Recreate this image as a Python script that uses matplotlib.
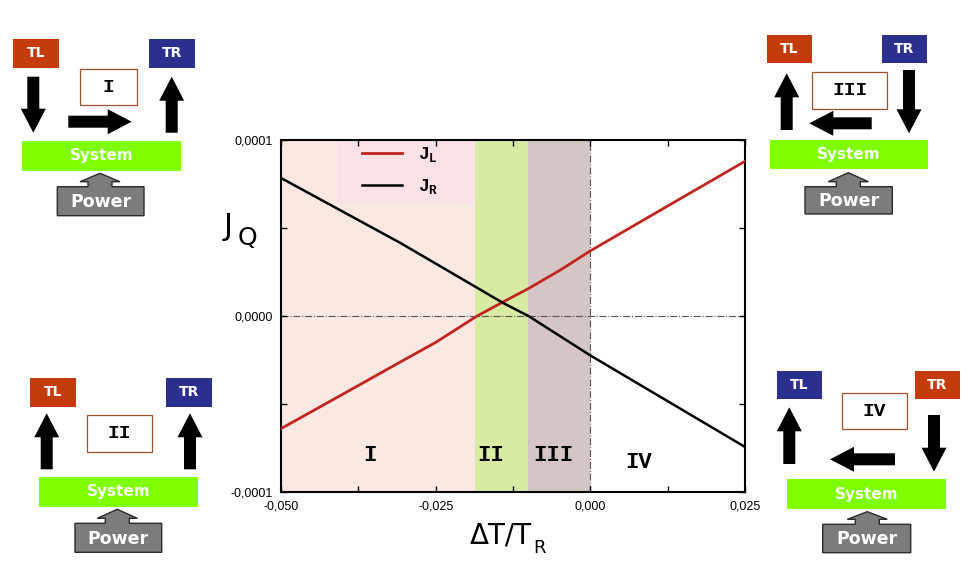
import matplotlib
matplotlib.use('Agg')
import matplotlib.pyplot as plt
import matplotlib.patches as mpatches

matplotlib.rcParams.update({
    'font.family': 'DejaVu Sans',
    'mathtext.fontset': 'custom',
    'mathtext.rm': 'Liberation Mono:bold',
    'mathtext.it': 'Liberation Mono:bold',
})

# heat currents
dT_L = [-0.050, -0.0375, -0.0307, -0.025, -0.0183, -0.0141, -0.0100, -0.0049, 0.000, 0.0125, 0.025]
J_L = [-6.40e-5, -3.95e-5, -2.61e-5, -1.50e-5, 0.0, 0.80e-5, 1.56e-5, 2.60e-5, 3.70e-5, 6.25e-5, 8.79e-5]
dT_R = [-0.050, -0.0375, -0.0307, -0.025, -0.0141, -0.0100, 0.000, 0.0125, 0.025]
J_R = [7.84e-5, 5.45e-5, 4.15e-5, 2.98e-5, 0.74e-5, 0.0, -2.24e-5, -4.84e-5, -7.44e-5]

# shaded regimes
region_edges = [-0.050, -0.0187, -0.0101, 0.000]
region_colors = ['#fae9e2', '#d8eba2', '#d5c6c5']
region_names = ['I', 'II', 'III', 'IV']
region_label_x = [-0.0356, -0.0161, -0.0060, 0.0078]
region_label_y = [-7.9e-5, -7.9e-5, -7.9e-5, -8.3e-5]

xticks = [-0.050, -0.025, 0.000, 0.025]
xtick_labels = ['-0,050', '-0,025', '0,000', '0,025']
xminor = [-0.0375, -0.0125, 0.0125]
yticks = [-0.0001, 0.0, 0.0001]
ytick_labels = ['-0,0001', '0,0000', '0,0001']
yminor = [-0.00005, 0.00005]

RED = '#c43b0c'
BLUE = '#2b2f8e'
LIME = '#80ff00'

fig = plt.figure(figsize=(9.75, 5.74), dpi=100)

# overlay in pixel coordinates for the little schematics
ov = fig.add_axes([0, 0, 1, 1], zorder=-1)
ov.set_xlim(0, 975)
ov.set_ylim(574, 0)
ov.axis('off')


def box(x0, y0, x1, y1, color, text, size=10, tcolor='white', edge='none', family='DejaVu Sans'):
    ov.add_patch(mpatches.Rectangle((x0, y0), x1 - x0, y1 - y0, facecolor=color,
                                    edgecolor=edge, lw=0.9))
    ov.text((x0 + x1) / 2, (y0 + y1) / 2, text, color=tcolor, fontsize=size,
            fontweight='bold', family=family, ha='center', va='center')


def arrow(x0, y0, x1, y1):
    ov.add_patch(mpatches.FancyArrow(x0, y0, x1 - x0, y1 - y0, width=12, head_width=25,
                                     head_length=24, length_includes_head=True,
                                     color='black', lw=0))


def power(x0, x1, y0, y1, cx, apex):
    pts = [(x0, y1), (x0, y0), (cx - 12, y0), (cx - 12, y0 - 5), (cx - 20, y0 - 5),
           (cx, apex), (cx + 20, y0 - 5), (cx + 12, y0 - 5), (cx + 12, y0), (x1, y0), (x1, y1)]
    ov.add_patch(mpatches.Polygon(pts, closed=True, facecolor='#7c7c7c', edgecolor='#2b2b2b', lw=1))
    ov.text((x0 + x1) / 2, (y0 + y1) / 2 + 1, 'Power', color='white', fontsize=12.5,
            fontweight='bold', ha='center', va='center')


def label(x0, y0, x1, y1, text):
    box(x0, y0, x1, y1, 'white', text, size=14, tcolor='black', edge='#a0522d',
        family='Liberation Mono')


# panel I
box(12.7, 39, 59.3, 67.7, RED, 'TL')
box(149, 39, 195, 67.7, BLUE, 'TR')
label(80, 69.3, 136.7, 105, 'I')
arrow(33.3, 76.7, 33.3, 132.7)
arrow(68.3, 121.7, 131.7, 121.7)
arrow(171.7, 132.7, 171.7, 76.7)
box(21.7, 141, 181, 170.7, LIME, 'System', size=11)
power(57.3, 144, 186.7, 215.7, 100, 173.3)

# panel III
box(767.3, 35, 811.7, 63.3, RED, 'TL')
box(882.3, 35, 926.7, 63.3, BLUE, 'TR')
label(812.3, 72.3, 887.3, 109.3, 'III')
arrow(786.7, 130, 786.7, 73.3)
arrow(871.7, 123.3, 809.3, 123.3)
arrow(909, 70, 909, 133.3)
box(770, 140, 928.3, 169.3, LIME, 'System', size=11)
power(805, 892.3, 186.7, 214, 848.3, 172.7)

# panel II
box(30, 377.7, 76, 406.7, RED, 'TL')
box(166, 377.7, 211.7, 406.7, BLUE, 'TR')
label(87.3, 415, 151.7, 452, 'II')
arrow(46.7, 469.3, 46.7, 413.3)
arrow(190, 469.3, 190, 413.3)
box(39, 476.7, 197.7, 506.7, LIME, 'System', size=11)
power(75, 161.7, 523.3, 552.3, 117.3, 509.3)

# panel IV
box(776.7, 371, 821.7, 399.3, BLUE, 'TL')
box(915, 371, 960, 399.3, RED, 'TR')
label(841.7, 393.3, 906.7, 429.3, 'IV')
arrow(789.3, 464, 789.3, 407.3)
arrow(895, 459.3, 830, 459.3)
arrow(934, 415, 934, 471.7)
box(786.7, 479.3, 945.7, 509, LIME, 'System', size=11)
power(822.7, 910.7, 524.3, 552.7, 867.3, 511.7)

# axis titles
ov.text(224, 235, 'J', fontsize=22, va='baseline', ha='left')
ov.text(238, 245, 'Q', fontsize=18, va='baseline', ha='left')
ov.text(470, 544, 'ΔT/T', fontsize=20, va='baseline', ha='left')
ov.text(533, 553, 'R', fontsize=13, va='baseline', ha='left')

# main plot
ax = fig.add_axes([281 / 975, 82 / 574, 464 / 975, 352 / 574])
for i, c in enumerate(region_colors):
    ax.axvspan(region_edges[i], region_edges[i + 1], color=c, lw=0, zorder=0)
ax.add_patch(mpatches.Rectangle((0.121, 0.818), 0.295, 0.182, transform=ax.transAxes,
                                facecolor='#f9e1e6', edgecolor='none', zorder=0.5))
ax.axhline(0, color='#555555', lw=0.8, ls='-.', zorder=1)
ax.axvline(0, color='#555555', lw=0.8, ls='-.', zorder=1)

ax.plot(dT_L, J_L, color='#c0261f', lw=2, label=r'$\mathrm{J_L}$', zorder=3)
ax.plot(dT_R, J_R, color='black', lw=1.8, label=r'$\mathrm{J_R}$', zorder=3)

for name, x, y in zip(region_names, region_label_x, region_label_y):
    ax.text(x, y, name, family='Liberation Mono', fontweight='bold', fontsize=16,
            ha='center', va='center', zorder=4)

ax.set_xlim(-0.050, 0.025)
ax.set_ylim(-0.0001, 0.0001)
ax.set_xticks(xticks)
ax.set_xticklabels(xtick_labels)
ax.set_xticks(xminor, minor=True)
ax.set_yticks(yticks)
ax.set_yticklabels(ytick_labels)
ax.set_yticks(yminor, minor=True)
ax.tick_params(which='both', direction='in', top=True, right=True, length=4, width=1,
               labelsize=9, pad=6)
for lbl in ax.get_xticklabels() + ax.get_yticklabels():
    lbl.set_family('Liberation Sans')
for s in ax.spines.values():
    s.set_linewidth(1.5)

ax.legend(loc='upper left', bbox_to_anchor=(0.175, 0.985), frameon=False, fontsize=13,
          handlelength=2.2, handletextpad=0.9, labelspacing=0.7, borderpad=0, borderaxespad=0)

fig.savefig('out.png', dpi=100)
